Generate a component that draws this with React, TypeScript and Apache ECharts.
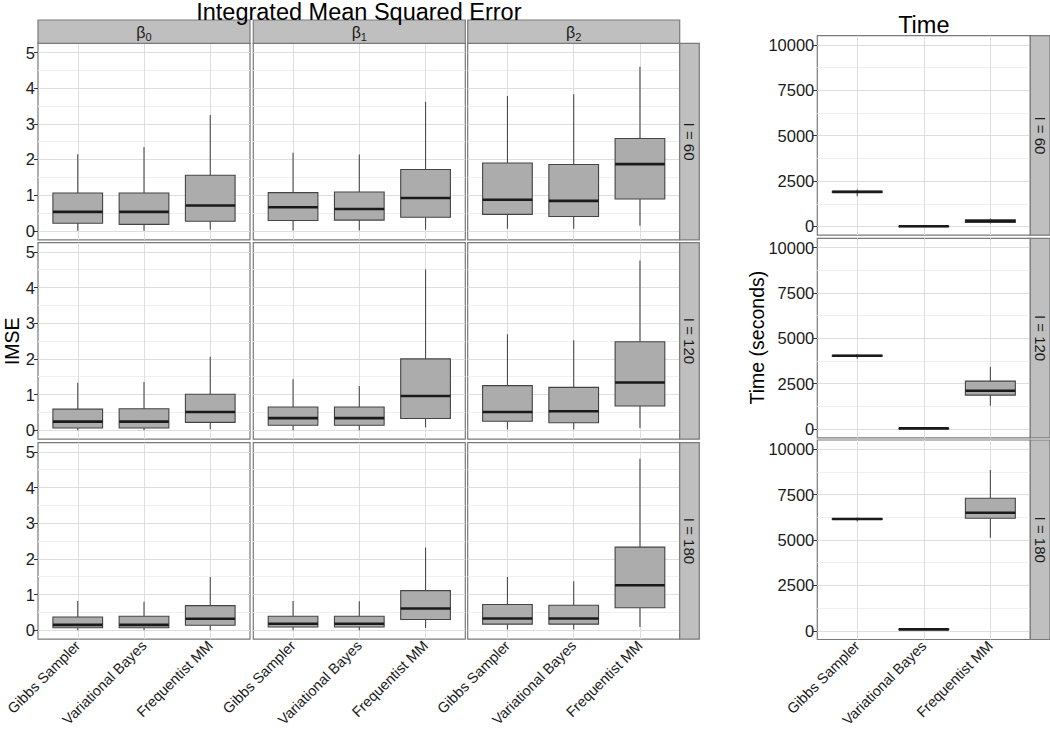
import React, { useEffect, useRef } from 'react';
import * as echarts from 'echarts';

const FONT = '"Liberation Sans", Arial, Helvetica, sans-serif';

// ---------- data ----------
const methods = ['Gibbs Sampler', 'Variational Bayes', 'Frequentist MM'];
const paramLabels = ['0', '1', '2']; // subscripts of β
const sampleSizes = ['I = 60', 'I = 120', 'I = 180'];
const imseTicks = [0, 1, 2, 3, 4, 5];
const imseMinor = [0.5, 1.5, 2.5, 3.5, 4.5];
const timeTicks = [0, 2500, 5000, 7500, 10000];
const timeMinor = [1250, 3750, 6250, 8750];

// each row: [min, Q1, median, Q3, max] for Gibbs, VB, Frequentist MM
const imseI60Beta0 = [[0.0, 0.21, 0.53, 1.06, 2.15], [0.0, 0.18, 0.53, 1.06, 2.35], [0.03, 0.27, 0.71, 1.56, 3.25]];
const imseI60Beta1 = [[0.01, 0.29, 0.66, 1.07, 2.19], [0.01, 0.30, 0.61, 1.09, 2.14], [0.03, 0.38, 0.92, 1.72, 3.62]];
const imseI60Beta2 = [[0.06, 0.46, 0.87, 1.90, 3.78], [0.06, 0.40, 0.84, 1.86, 3.83], [0.14, 0.89, 1.87, 2.59, 4.60]];
const imseI120Beta0 = [[0.0, 0.06, 0.24, 0.59, 1.33], [0.0, 0.06, 0.24, 0.60, 1.35], [0.03, 0.22, 0.51, 1.01, 2.06]];
const imseI120Beta1 = [[0.0, 0.14, 0.34, 0.65, 1.43], [0.0, 0.14, 0.34, 0.65, 1.24], [0.08, 0.33, 0.96, 2.00, 4.51]];
const imseI120Beta2 = [[0.02, 0.25, 0.51, 1.25, 2.69], [0.02, 0.21, 0.53, 1.20, 2.52], [0.06, 0.68, 1.34, 2.48, 4.76]];
const imseI180Beta0 = [[0.0, 0.07, 0.15, 0.37, 0.82], [0.0, 0.07, 0.15, 0.39, 0.80], [0.0, 0.14, 0.32, 0.69, 1.49]];
const imseI180Beta1 = [[0.0, 0.09, 0.18, 0.39, 0.82], [0.0, 0.09, 0.18, 0.39, 0.81], [0.06, 0.30, 0.61, 1.11, 2.32]];
const imseI180Beta2 = [[0.02, 0.17, 0.33, 0.72, 1.49], [0.02, 0.17, 0.33, 0.70, 1.37], [0.09, 0.63, 1.26, 2.33, 4.81]];

const timeI60 = [[1670, 1880, 1910, 1935, 2040], [0, 5, 10, 15, 25], [165, 220, 300, 364, 441]];
const timeI120 = [[3880, 4010, 4040, 4070, 4120], [20, 30, 40, 50, 60], [1283, 1872, 2109, 2643, 3430]];
const timeI180 = [[6020, 6130, 6160, 6190, 6240], [50, 70, 80, 90, 110], [5129, 6199, 6508, 7302, 8863]];

const imseGrid = [
  [imseI60Beta0, imseI60Beta1, imseI60Beta2],
  [imseI120Beta0, imseI120Beta1, imseI120Beta2],
  [imseI180Beta0, imseI180Beta1, imseI180Beta2],
];
const timeGrid = [timeI60, timeI120, timeI180];

// ---------- layout ----------
const LEFT_COLS = [38, 253.3, 467.7];
const PANEL_W = 212;
const ROW_TOPS = [43.3, 242.7, 442.7];
const PANEL_H = 196.5;
const STRIP_TOP = 20;
const STRIP_H = 23.3;
const RSTRIP_W = 19.6;
const TIME_LEFT = 817.3;
const TIME_W = 213;
const TIME_TOPS = [35.7, 238.3, 440];
const TIME_H = 199.5;
const IMSE_MIN = -0.252;
const IMSE_MAX = 5.258;
const TIME_MIN = -480;
const TIME_MAX = 10513;

const BORDER = '#7a7a7a';
const STRIP_FILL = '#bfbfbf';
const MAJOR = { color: '#dedede', width: 1, type: 'solid' };
const MINOR = { color: '#f0f0f0', width: 1, type: 'solid' };
const TEXT = '#1a1a1a';

function renderBox(params: any, api: any) {
  const x = api.value(0);
  const w = api.size([0.75, 0])[0];
  const pMin = api.coord([x, api.value(1)]);
  const pQ1 = api.coord([x, api.value(2)]);
  const pMed = api.coord([x, api.value(3)]);
  const pQ3 = api.coord([x, api.value(4)]);
  const pMax = api.coord([x, api.value(5)]);
  const cx = pMed[0];
  return {
    type: 'group',
    children: [
      { type: 'line', shape: { x1: cx, y1: pMax[1], x2: cx, y2: pQ3[1] }, style: { stroke: '#4a4a4a', lineWidth: 1.1 } },
      { type: 'line', shape: { x1: cx, y1: pQ1[1], x2: cx, y2: pMin[1] }, style: { stroke: '#4a4a4a', lineWidth: 1.1 } },
      {
        type: 'rect',
        shape: { x: cx - w / 2, y: pQ3[1], width: w, height: Math.max(pQ1[1] - pQ3[1], 0.5) },
        style: { fill: '#acacac', stroke: '#444444', lineWidth: 1.1 },
      },
      { type: 'line', shape: { x1: cx - w / 2, y1: pMed[1], x2: cx + w / 2, y2: pMed[1] }, style: { stroke: '#1a1a1a', lineWidth: 2.6 } },
    ],
  };
}

function buildOption() {
  const grid: any[] = [];
  const xAxis: any[] = [];
  const yAxis: any[] = [];
  const series: any[] = [];
  const graphic: any[] = [];

  const panels: any[] = [];
  for (let r = 0; r < 3; r++) {
    for (let c = 0; c < 3; c++) {
      panels.push({
        left: LEFT_COLS[c], top: ROW_TOPS[r], w: PANEL_W, h: PANEL_H,
        min: IMSE_MIN, max: IMSE_MAX, ticks: imseTicks, minor: imseMinor,
        data: imseGrid[r][c], showY: c === 0, showX: r === 2,
      });
    }
    panels.push({
      left: TIME_LEFT, top: TIME_TOPS[r], w: TIME_W, h: TIME_H,
      min: TIME_MIN, max: TIME_MAX, ticks: timeTicks, minor: timeMinor,
      data: timeGrid[r], showY: true, showX: r === 2,
    });
  }

  panels.forEach((p, i) => {
    grid.push({
      left: p.left, top: p.top, width: p.w, height: p.h,
      show: true, backgroundColor: '#ffffff', borderColor: BORDER, borderWidth: 1.2,
      containLabel: false, outerBoundsMode: 'none',
    });
    xAxis.push({
      type: 'value', gridIndex: i, min: 0.4, max: 3.6,
      axisLine: { show: false }, splitLine: { show: false },
      axisTick: { show: p.showX, customValues: [1, 2, 3], length: 4, lineStyle: { color: '#333333' } },
      axisLabel: {
        show: p.showX, customValues: [1, 2, 3], rotate: 45, margin: 4,
        formatter: (v: number) => methods[Math.round(v) - 1] || '',
        fontSize: 14.5, color: TEXT, fontFamily: FONT,
      },
    });
    yAxis.push({
      type: 'value', gridIndex: i, min: p.min, max: p.max,
      axisLine: { show: false }, splitLine: { show: false },
      axisTick: { show: p.showY, customValues: p.ticks, length: 4, lineStyle: { color: '#333333' } },
      axisLabel: {
        show: p.showY, customValues: p.ticks, margin: 3,
        formatter: (v: number) => String(Math.round(v * 100) / 100),
        fontSize: 16.5, color: TEXT, fontFamily: FONT,
      },
    });
    const lines: any[] = [];
    p.minor.forEach((v: number) => lines.push({ yAxis: v, lineStyle: MINOR }));
    p.ticks.forEach((v: number) => lines.push({ yAxis: v, lineStyle: MAJOR }));
    [1, 2, 3].forEach((v) => lines.push({ xAxis: v, lineStyle: MAJOR }));
    series.push({
      type: 'line', xAxisIndex: i, yAxisIndex: i, data: [], z: 1, zlevel: 0,
      markLine: { silent: true, z: 1, symbol: ['none', 'none'], label: { show: false }, animation: false, data: lines },
    });
    series.push({
      type: 'custom', xAxisIndex: i, yAxisIndex: i, z: 20,
      data: p.data.map((d: number[], k: number) => [k + 1, ...d]),
      encode: { x: 0, y: [1, 2, 3, 4, 5] },
      renderItem: renderBox,
    });
  });

  // top strips
  LEFT_COLS.forEach((x, c) => {
    graphic.push({
      type: 'rect', shape: { x, y: STRIP_TOP, width: PANEL_W, height: STRIP_H },
      style: { fill: STRIP_FILL, stroke: BORDER, lineWidth: 1.2 }, z: 30,
    });
    graphic.push({
      type: 'text', x: x + PANEL_W / 2, y: STRIP_TOP + STRIP_H / 2 + 1, z: 31,
      style: {
        text: '{b|β}{s|' + paramLabels[c] + '}',
        align: 'center', verticalAlign: 'middle', fill: TEXT,
        rich: {
          b: { fontSize: 16, fontFamily: FONT, lineHeight: 19, fill: TEXT },
          s: { fontSize: 11, fontFamily: FONT, lineHeight: 11, verticalAlign: 'bottom', fill: TEXT },
        },
      },
    });
  });
  // right strips
  const stripX = LEFT_COLS[2] + PANEL_W;
  ROW_TOPS.forEach((y, r) => {
    graphic.push({
      type: 'rect', shape: { x: stripX, y, width: RSTRIP_W, height: PANEL_H },
      style: { fill: STRIP_FILL, stroke: BORDER, lineWidth: 1.2 }, z: 30,
    });
    graphic.push({
      type: 'text', x: stripX + RSTRIP_W / 2, y: y + PANEL_H / 2, rotation: -Math.PI / 2, z: 31,
      style: { text: sampleSizes[r], align: 'center', verticalAlign: 'middle', fill: TEXT, fontSize: 15, fontFamily: FONT },
    });
  });
  const tStripX = TIME_LEFT + TIME_W;
  TIME_TOPS.forEach((y, r) => {
    graphic.push({
      type: 'rect', shape: { x: tStripX, y, width: RSTRIP_W, height: TIME_H },
      style: { fill: STRIP_FILL, stroke: BORDER, lineWidth: 1.2 }, z: 30,
    });
    graphic.push({
      type: 'text', x: tStripX + RSTRIP_W / 2, y: y + TIME_H / 2, rotation: -Math.PI / 2, z: 31,
      style: { text: sampleSizes[r], align: 'center', verticalAlign: 'middle', fill: TEXT, fontSize: 15, fontFamily: FONT },
    });
  });
  // titles
  graphic.push({
    type: 'text', x: LEFT_COLS[0] + (LEFT_COLS[2] + PANEL_W - LEFT_COLS[0]) / 2, y: 11.5, z: 31,
    style: { text: 'Integrated Mean Squared Error', align: 'center', verticalAlign: 'middle', fill: '#000', fontSize: 23.5, fontFamily: FONT },
  });
  graphic.push({
    type: 'text', x: TIME_LEFT + TIME_W / 2, y: 25, z: 31,
    style: { text: 'Time', align: 'center', verticalAlign: 'middle', fill: '#000', fontSize: 23.5, fontFamily: FONT },
  });
  // axis titles
  graphic.push({
    type: 'text', x: 12, y: (ROW_TOPS[0] + ROW_TOPS[2] + PANEL_H) / 2, rotation: Math.PI / 2, z: 31,
    style: { text: 'IMSE', align: 'center', verticalAlign: 'middle', fill: '#000', fontSize: 19.5, fontFamily: FONT },
  });
  graphic.push({
    type: 'text', x: 757, y: (TIME_TOPS[0] + TIME_TOPS[2] + TIME_H) / 2, rotation: Math.PI / 2, z: 31,
    style: { text: 'Time (seconds)', align: 'center', verticalAlign: 'middle', fill: '#000', fontSize: 19.5, fontFamily: FONT },
  });

  return {
    animation: false,
    backgroundColor: '#ffffff',
    textStyle: { fontFamily: FONT },
    grid, xAxis, yAxis, series, graphic,
  };
}

export default function App() {
  const ref = useRef<HTMLDivElement>(null);
  useEffect(() => {
    document.body.style.margin = '0';
    if (!ref.current) return;
    const chart = echarts.init(ref.current, undefined, { renderer: 'svg' });
    chart.setOption(buildOption() as any);
    return () => chart.dispose();
  }, []);
  return <div ref={ref} style={{ width: 1050, height: 729, position: 'absolute', left: 0, top: 0 }} />;
}
